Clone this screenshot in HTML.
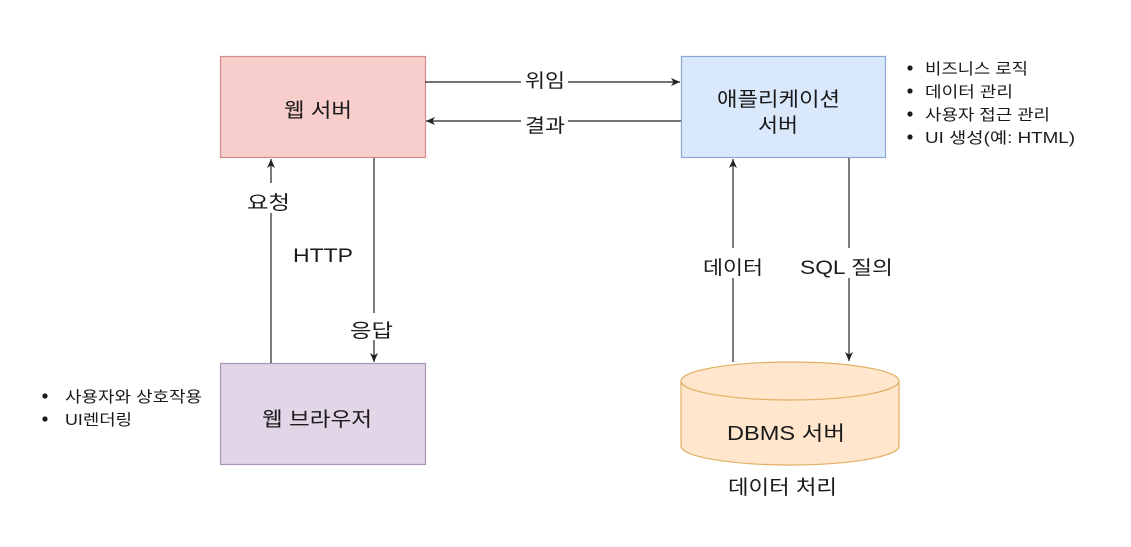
<!DOCTYPE html>
<html><head><meta charset="utf-8"><style>
html,body{margin:0;padding:0;background:#fff;}
svg{display:block;}
text{font-family:"Liberation Sans","Noto Sans CJK KR",sans-serif;fill:#1a1a1a;}
</style></head><body>
<svg width="1131" height="547" viewBox="0 0 1131 547" xmlns="http://www.w3.org/2000/svg">
<defs>
<marker id="a" markerWidth="10" markerHeight="10" refX="9" refY="5" orient="auto" markerUnits="userSpaceOnUse">
<path d="M0,1 L9,5 L0,9 L2.5,5 z" fill="#222"/></marker>
</defs>
<rect width="1131" height="547" fill="#fff"/>
<!-- boxes -->
<rect x="220.5" y="56.5" width="205" height="101" fill="#f8cecc" stroke="#d58a87" stroke-width="1.2"/>
<text x="284" y="117" font-size="20" textLength="68" lengthAdjust="spacingAndGlyphs">웹 서버</text>
<rect x="681.5" y="56.5" width="204" height="101" fill="#dae8fc" stroke="#8aa8d4" stroke-width="1.2"/>
<text x="717" y="106" font-size="20" textLength="123" lengthAdjust="spacingAndGlyphs">애플리케이션</text>
<text x="758" y="132" font-size="20" textLength="40" lengthAdjust="spacingAndGlyphs">서버</text>
<rect x="220.5" y="363.5" width="205" height="101" fill="#e1d5e7" stroke="#a894b4" stroke-width="1.2"/>
<text x="262" y="426" font-size="20" textLength="110" lengthAdjust="spacingAndGlyphs">웹 브라우저</text>
<!-- cylinder -->
<path d="M681,381 L681,446 A109,19 0 0 0 899,446 L899,381" fill="#ffe6cc" stroke="#e0b063" stroke-width="1.2"/>
<ellipse cx="790" cy="381" rx="109" ry="19" fill="#ffe6cc" stroke="#e0b063" stroke-width="1.2"/>
<text x="727" y="440" font-size="20" textLength="118" lengthAdjust="spacingAndGlyphs">DBMS 서버</text>
<text x="728" y="494" font-size="20" textLength="109" lengthAdjust="spacingAndGlyphs">데이터 처리</text>
<!-- horizontal arrows -->
<line x1="425" y1="82" x2="521" y2="82" stroke="#222" stroke-width="1.2"/>
<line x1="568" y1="82" x2="680" y2="82" stroke="#222" stroke-width="1.2" marker-end="url(#a)"/>
<text x="525" y="87" font-size="19" textLength="40" lengthAdjust="spacingAndGlyphs">위임</text>
<line x1="681" y1="121" x2="568" y2="121" stroke="#222" stroke-width="1.2"/>
<line x1="521" y1="121" x2="426" y2="121" stroke="#222" stroke-width="1.2" marker-end="url(#a)"/>
<text x="525" y="132" font-size="19" textLength="40" lengthAdjust="spacingAndGlyphs">결과</text>
<!-- web vertical -->
<line x1="271" y1="363" x2="271" y2="213" stroke="#222" stroke-width="1.2"/>
<line x1="271" y1="183" x2="271" y2="159" stroke="#222" stroke-width="1.2" marker-end="url(#a)"/>
<text x="247" y="209" font-size="19" textLength="43" lengthAdjust="spacingAndGlyphs">요청</text>
<line x1="374" y1="158" x2="374" y2="313" stroke="#222" stroke-width="1.2"/>
<line x1="374" y1="340" x2="374" y2="362" stroke="#222" stroke-width="1.2" marker-end="url(#a)"/>
<text x="350" y="337" font-size="19" textLength="43" lengthAdjust="spacingAndGlyphs">응답</text>
<text x="293" y="262" font-size="19" textLength="60" lengthAdjust="spacingAndGlyphs">HTTP</text>
<!-- app vertical -->
<line x1="733" y1="362" x2="733" y2="278" stroke="#222" stroke-width="1.2"/>
<line x1="733" y1="248" x2="733" y2="159" stroke="#222" stroke-width="1.2" marker-end="url(#a)"/>
<text x="703" y="274" font-size="19" textLength="60" lengthAdjust="spacingAndGlyphs">데이터</text>
<line x1="849" y1="158" x2="849" y2="248" stroke="#222" stroke-width="1.2"/>
<line x1="849" y1="278" x2="849" y2="361" stroke="#222" stroke-width="1.2" marker-end="url(#a)"/>
<text x="800" y="274" font-size="19" textLength="93" lengthAdjust="spacingAndGlyphs">SQL 질의</text>
<!-- bullets right -->
<g font-size="15.5">
<circle cx="910" cy="68" r="2.6" fill="#1a1a1a"/><text x="925" y="74" textLength="103" lengthAdjust="spacingAndGlyphs">비즈니스 로직</text>
<circle cx="910" cy="91" r="2.6" fill="#1a1a1a"/><text x="925" y="97" textLength="88" lengthAdjust="spacingAndGlyphs">데이터 관리</text>
<circle cx="910" cy="114" r="2.6" fill="#1a1a1a"/><text x="925" y="120" textLength="125" lengthAdjust="spacingAndGlyphs">사용자 접근 관리</text>
<circle cx="910" cy="137" r="2.6" fill="#1a1a1a"/><text x="925" y="143" textLength="150" lengthAdjust="spacingAndGlyphs">UI 생성(예: HTML)</text>
</g>
<g font-size="15.5">
<circle cx="45" cy="396" r="2.6" fill="#1a1a1a"/><text x="65" y="402" textLength="137" lengthAdjust="spacingAndGlyphs">사용자와 상호작용</text>
<circle cx="45" cy="419" r="2.6" fill="#1a1a1a"/><text x="65" y="425" textLength="67" lengthAdjust="spacingAndGlyphs">UI렌더링</text>
</g>
</svg>
</body></html>
